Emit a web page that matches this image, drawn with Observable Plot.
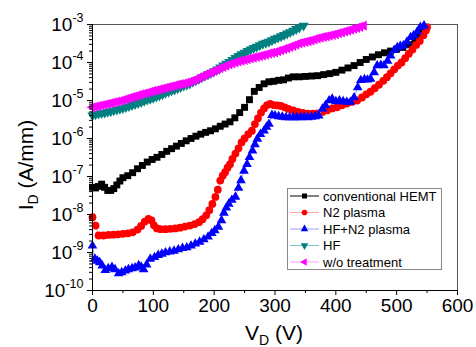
<!DOCTYPE html>
<html><head><meta charset="utf-8">
<script src="https://cdn.jsdelivr.net/npm/d3@7"></script>
<script src="https://cdn.jsdelivr.net/npm/@observablehq/plot@0.6"></script>
<style>body{margin:0;background:#fff}</style>
</head><body><div id="chart"></div><script>
// ---- data: [V_D (V), I_D (A/mm)] ----
const hemt = [[0,5.2e-8],[5,5.0e-8],[10,5.5e-8],[15,6.3e-8],[20,5.2e-8],[25,4.3e-8],[30,4.3e-8],[35,4.8e-8],[40,6.0e-8],[45,7.6e-8],
[50,9.3e-8],[58,1.05e-7],[66,1.26e-7],[74,1.6e-7],[82,1.95e-7],[90,2.4e-7],[98,2.8e-7],[106,3.2e-7],[114,3.8e-7],[122,4.6e-7],
[130,5.4e-7],[138,6.3e-7],[146,7.4e-7],[154,8.7e-7],[162,1.0e-6],[170,1.15e-6],[178,1.3e-6],[186,1.45e-6],[194,1.6e-6],[202,1.8e-6],
[210,2.1e-6],[218,2.4e-6],[226,2.75e-6],[234,3.5e-6],[242,4.8e-6],[250,6.6e-6],[258,1.05e-5],[266,1.74e-5],[274,2.2e-5],[282,2.75e-5],
[290,3.1e-5],[298,3.2e-5],[306,3.4e-5],[314,3.5e-5],[322,3.9e-5],[330,4.2e-5],[340,4.2e-5],[350,4.3e-5],[360,4.4e-5],[370,4.5e-5],
[380,4.8e-5],[390,5.1e-5],[400,5.5e-5],[410,6.3e-5],[420,7.2e-5],[430,8.3e-5],[440,1.0e-4],[450,1.2e-4],[460,1.4e-4],[470,1.6e-4],
[480,1.8e-4],[490,2.0e-4],[500,2.24e-4],[510,2.5e-4],[520,2.95e-4],[530,3.8e-4],[537,5.6e-4],[542,8.3e-4]];

const n2 = [[0,8.5e-9],[5,5.1e-9],[10,2.8e-9],[18,2.8e-9],[26,2.9e-9],[34,2.95e-9],[42,3.0e-9],[50,3.1e-9],[58,3.2e-9],[66,3.4e-9],
[74,4.0e-9],[80,5.0e-9],[86,6.5e-9],[92,7.7e-9],[97,7.0e-9],[101,5.2e-9],[106,4.3e-9],[112,4.1e-9],[120,4.1e-9],[128,4.2e-9],
[136,4.3e-9],[144,4.5e-9],[152,4.8e-9],[160,5.1e-9],[168,5.6e-9],[175,6.3e-9],[181,7.5e-9],[187,9.5e-9],[192,1.3e-8],[197,1.9e-8],
[202,2.9e-8],[206,4.5e-8],[210,7.8e-8],[214,1.05e-7],[218,1.3e-7],[222,1.7e-7],[226,2.1e-7],[230,2.9e-7],[235,4.0e-7],[240,5.5e-7],
[245,7.9e-7],[250,1.0e-6],[256,1.3e-6],[262,1.6e-6],[267,2.4e-6],[272,3.4e-6],[277,4.8e-6],[282,6.2e-6],[287,7.6e-6],[292,8.1e-6],
[298,7.6e-6],[304,7.4e-6],[310,7.2e-6],[316,6.6e-6],[322,6.0e-6],[330,5.5e-6],[338,5.0e-6],[346,4.7e-6],[354,4.5e-6],[362,4.5e-6],
[370,4.6e-6],[378,5.0e-6],[386,5.5e-6],[394,6.2e-6],[402,6.6e-6],[410,7.5e-6],[418,8.3e-6],[426,9.2e-6],[435,1.0e-5],[443,1.2e-5],
[450,1.45e-5],[457,1.7e-5],[464,2.1e-5],[471,2.6e-5],[478,3.3e-5],[484,4.1e-5],[490,5.2e-5],[496,6.6e-5],[502,8.3e-5],[508,1.0e-4],
[514,1.3e-4],[520,1.7e-4],[526,2.2e-4],[532,2.9e-4],[538,3.7e-4],[544,5.2e-4],[548,7.0e-4],[550,8.5e-4]];

const hfn2 = [[0,1.5e-9],[4,6.8e-10],[8,6.0e-10],[12,5.5e-10],[16,4.5e-10],[21,3.4e-10],[26,3.8e-10],[32,4.1e-10],[37,3.6e-10],[43,2.8e-10],
[48,3.0e-10],[54,3.3e-10],[59,3.6e-10],[65,3.8e-10],[70,4.0e-10],[76,4.6e-10],[80,4.2e-10],[84,3.6e-10],[89,4.8e-10],[95,6.8e-10],
[102,7.5e-10],[108,8.5e-10],[114,9.2e-10],[120,1.0e-9],[127,1.05e-9],[134,1.1e-9],[141,1.2e-9],[148,1.3e-9],[155,1.35e-9],[162,1.5e-9],
[169,1.7e-9],[176,1.9e-9],[183,2.2e-9],[190,2.6e-9],[196,3.2e-9],[201,3.8e-9],[207,4.7e-9],[212,7.0e-9],[216,1.1e-8],[220,1.5e-8],
[224,1.9e-8],[229,2.4e-8],[235,2.9e-8],[240,5.0e-8],[244,7.9e-8],[249,1.4e-7],[254,2.1e-7],[258,3.2e-7],[263,4.8e-7],[267,7.0e-7],
[271,9.8e-7],[276,1.3e-6],[282,1.6e-6],[286,2.0e-6],[290,2.4e-6],[295,4.1e-6],[300,4.0e-6],[306,3.8e-6],[312,3.7e-6],[318,3.6e-6],
[324,3.6e-6],[330,3.6e-6],[336,3.6e-6],[342,3.6e-6],[348,3.7e-6],[354,3.6e-6],[360,3.7e-6],[366,3.8e-6],[372,4.0e-6],[378,6.0e-6],
[383,7.4e-6],[389,1.0e-5],[394,1.1e-5],[400,9.5e-6],[406,1.0e-5],[412,9.5e-6],[418,9.1e-6],[424,9.1e-6],[430,1.2e-5],[436,2.2e-5],
[441,3.4e-5],[447,3.6e-5],[452,3.5e-5],[457,3.7e-5],[463,5.5e-5],[468,8.3e-5],[474,8.5e-5],[479,8.3e-5],[485,1.1e-4],[490,1.5e-4],
[496,2.1e-4],[501,2.5e-4],[506,2.7e-4],[511,2.8e-4],[517,3.5e-4],[523,4.6e-4],[528,5.2e-4],[534,6.5e-4],[539,8.5e-4],[545,9.3e-4]];

const hf = [[0,4.07e-6],[5,4.3e-6],[10,4.5e-6],[15,4.65e-6],[20,4.8e-6],[25,5.0e-6],[30,5.2e-6],[35,5.5e-6],[40,5.8e-6],[45,6.0e-6],
[50,6.3e-6],[55,6.7e-6],[60,7.1e-6],[65,7.6e-6],[70,8.1e-6],[75,8.6e-6],[80,9.1e-6],[85,9.8e-6],[90,1.05e-5],[95,1.1e-5],
[100,1.17e-5],[105,1.26e-5],[110,1.35e-5],[115,1.46e-5],[120,1.58e-5],[125,1.7e-5],[130,1.82e-5],[135,1.95e-5],[140,2.1e-5],[145,2.27e-5],
[150,2.45e-5],[155,2.6e-5],[160,2.8e-5],[165,3.1e-5],[170,3.4e-5],[175,3.7e-5],[180,4.1e-5],[185,4.5e-5],[190,4.9e-5],[195,5.4e-5],
[200,5.9e-5],[205,6.6e-5],[210,7.4e-5],[215,8.3e-5],[220,9.3e-5],[225,1.04e-4],[230,1.17e-4],[235,1.32e-4],[240,1.48e-4],[245,1.65e-4],
[250,1.82e-4],[255,2.0e-4],[260,2.2e-4],[265,2.4e-4],[270,2.6e-4],[275,2.85e-4],[280,3.1e-4],[285,3.3e-4],[290,3.5e-4],[295,3.85e-4],
[300,4.2e-4],[305,4.5e-4],[310,4.9e-4],[315,5.3e-4],[320,5.8e-4],[325,6.3e-4],[330,6.9e-4],[335,7.6e-4],[340,8.3e-4],[347,9.3e-4]];

const woTreatment = [[0,6.6e-6],[5,6.9e-6],[10,7.2e-6],[15,7.5e-6],[20,7.8e-6],[25,8.1e-6],[30,8.5e-6],[35,8.9e-6],[40,9.3e-6],[45,9.7e-6],
[50,1.02e-5],[55,1.08e-5],[60,1.15e-5],[65,1.22e-5],[70,1.29e-5],[75,1.37e-5],[80,1.45e-5],[85,1.52e-5],[90,1.6e-5],[95,1.69e-5],
[100,1.78e-5],[105,1.86e-5],[110,1.95e-5],[115,2.05e-5],[120,2.15e-5],[125,2.25e-5],[130,2.35e-5],[135,2.47e-5],[140,2.6e-5],[145,2.7e-5],
[150,2.8e-5],[155,2.95e-5],[160,3.1e-5],[165,3.35e-5],[170,3.6e-5],[175,3.95e-5],[180,4.3e-5],[185,4.7e-5],[190,5.1e-5],[195,5.5e-5],
[200,6.0e-5],[205,6.5e-5],[210,7.1e-5],[215,7.7e-5],[220,8.3e-5],[225,8.9e-5],[230,9.5e-5],[235,1.01e-4],[240,1.07e-4],[245,1.12e-4],
[250,1.17e-4],[255,1.23e-4],[260,1.29e-4],[265,1.35e-4],[270,1.41e-4],[275,1.48e-4],[280,1.55e-4],[285,1.62e-4],[290,1.7e-4],[295,1.78e-4],
[300,1.86e-4],[305,1.98e-4],[310,2.1e-4],[315,2.25e-4],[320,2.4e-4],[325,2.57e-4],[330,2.75e-4],[335,2.97e-4],[340,3.2e-4],[345,3.35e-4],
[350,3.5e-4],[355,3.65e-4],[360,3.8e-4],[365,4.05e-4],[370,4.3e-4],[375,4.5e-4],[380,4.7e-4],[385,4.9e-4],[390,5.1e-4],[395,5.35e-4],
[400,5.6e-4],[405,5.9e-4],[410,6.2e-4],[415,6.55e-4],[420,6.9e-4],[425,7.3e-4],[430,7.8e-4],[435,8.2e-4],[440,8.7e-4],[446,9.3e-4]];

const seriesNames = ["conventional HEMT","N2 plasma","HF+N2 plasma","HF","w/o treatment"];
const xTicks = [0,100,200,300,400,500,600];
const xMinorTicks = [50,150,250,350,450,550];
const yTicks = [1e-10,1e-9,1e-8,1e-7,1e-6,1e-5,1e-4,1e-3];

// ---- symbols ----
const triDown = {draw(ctx, size){const R=Math.sqrt(size/1.299);ctx.moveTo(0,R);ctx.lineTo(-R*0.866,-R/2);ctx.lineTo(R*0.866,-R/2);ctx.closePath();}};
const triLeft = {draw(ctx, size){const R=Math.sqrt(size/1.299);ctx.moveTo(-R,0);ctx.lineTo(R/2,-R*0.866);ctx.lineTo(R/2,R*0.866);ctx.closePath();}};
const triUp = {draw(ctx, size){const R=Math.sqrt(size/1.299);ctx.moveTo(0,-R);ctx.lineTo(R*0.866,R/2);ctx.lineTo(-R*0.866,R/2);ctx.closePath();}};
const squareSym = {draw(ctx, size){const h=Math.sqrt(size)/2;ctx.rect(-h,-h,2*h,2*h);}};
const circleSym = {draw(ctx, size){const r=Math.sqrt(size/Math.PI);ctx.moveTo(r,0);ctx.arc(0,0,r,0,2*Math.PI);}};

const series = [
  {name: seriesNames[0], data: hemt, fill:"#000000", line:"#000000", symbol: squareSym, r:3.9},
  {name: seriesNames[1], data: n2, fill:"#ff0000", line:"#ffa0a0", symbol: circleSym, r:3.9},
  {name: seriesNames[2], data: hfn2, fill:"#0000ff", line:"#a0a0ff", symbol: triUp, r:3.6},
  {name: seriesNames[3], data: hf, fill:"#008080", line:"#80c0c0", symbol: triDown, r:3.8},
  {name: seriesNames[4], data: woTreatment, fill:"#ff00ff", line:"#ffa0ff", symbol: triLeft, r:3.8}
];

const yMinor = [];
for (let e = -10; e < -3; e++) for (let m = 2; m <= 9; m++) yMinor.push(m * Math.pow(10, e));

const svg = Plot.plot({
  width: 476, height: 347,
  marginLeft: 92, marginRight: 19, marginTop: 24, marginBottom: 57,
  style: {fontFamily: "'Liberation Sans', Arial, sans-serif", background: "#fff", color: "#000"},
  x: {domain: [0, 600]},
  y: {type: "log", domain: [1e-10, 1e-3]},
  marks: [
    Plot.frame({stroke: "#555"}),
    ...series.flatMap(s => [
      Plot.line(s.data, {x: d => d[0], y: d => d[1], stroke: s.line, strokeWidth: 1}),
      Plot.dot(s.data, {x: d => d[0], y: d => d[1], symbol: s.symbol, fill: s.fill, stroke: "none", r: s.r})
    ]),
    Plot.ruleX([0], {stroke: "#000"}),
    Plot.ruleY([1e-10], {stroke: "#000"}),
    Plot.axisX(xTicks, {tickSize: 5, tickPadding: 3, fontSize: 19, label: null}),
    Plot.axisX(xMinorTicks, {tickSize: 3, tickFormat: () => "", label: null}),
    Plot.axisY(yTicks, {tickSize: 5, tickPadding: 4, fontSize: 19, label: null, tickFormat: d => "10^" + Math.round(Math.log10(d))}),
    Plot.axisY(yMinor, {tickSize: 3, tickFormat: () => "", label: null})
  ]
});

const ns = "http://www.w3.org/2000/svg";
// superscripts on y tick labels
svg.querySelectorAll("text").forEach(t => {
  const s = t.textContent;
  if (s.indexOf("10^") === 0) {
    const e = s.slice(3);
    t.textContent = "10";
    const ts = document.createElementNS(ns, "tspan");
    ts.setAttribute("dy", "-9");
    ts.setAttribute("font-size", "12.5px");
    ts.textContent = e;
    t.appendChild(ts);
  }
});

const g = d3.select(svg);
const font = "'Liberation Sans', Arial, sans-serif";
// axis titles
const xt = g.append("text").attr("x", 274).attr("y", 340).attr("text-anchor", "middle")
  .attr("font-size", 21).attr("font-family", font).attr("fill", "#000");
xt.append("tspan").text("V");
xt.append("tspan").attr("font-size", 14).attr("dy", 5).text("D");
xt.append("tspan").attr("dy", -5).text(" (V)");

const yt = g.append("text").attr("transform", "translate(33,165) rotate(-90)").attr("text-anchor", "middle")
  .attr("font-size", 21).attr("font-family", font).attr("fill", "#000");
yt.append("tspan").text("I");
yt.append("tspan").attr("font-size", 14).attr("dy", 5).text("D");
yt.append("tspan").attr("dy", -5).text(" (A/mm)");

// legend
const lg = g.append("g").attr("font-family", font).attr("font-size", 13).attr("text-anchor", "start");
lg.append("rect").attr("x", 287.5).attr("y", 188.5).attr("width", 154).attr("height", 81)
  .attr("fill", "#fff").attr("stroke", "#888");
series.forEach((s, i) => {
  const y = 196 + i * 16.5;
  lg.append("line").attr("x1", 290).attr("x2", 319).attr("y1", y).attr("y2", y).attr("stroke", s.line).attr("stroke-width", 1);
  lg.append("path").attr("d", d3.symbol(s.symbol, 8 * Math.PI)()).attr("transform", `translate(304.5,${y})`).attr("fill", s.fill);
  lg.append("text").attr("x", 323).attr("y", y).attr("dy", "0.36em").attr("text-anchor", "start").attr("fill", "#000").text(s.name);
});

document.getElementById("chart").appendChild(svg);
</script></body></html>
